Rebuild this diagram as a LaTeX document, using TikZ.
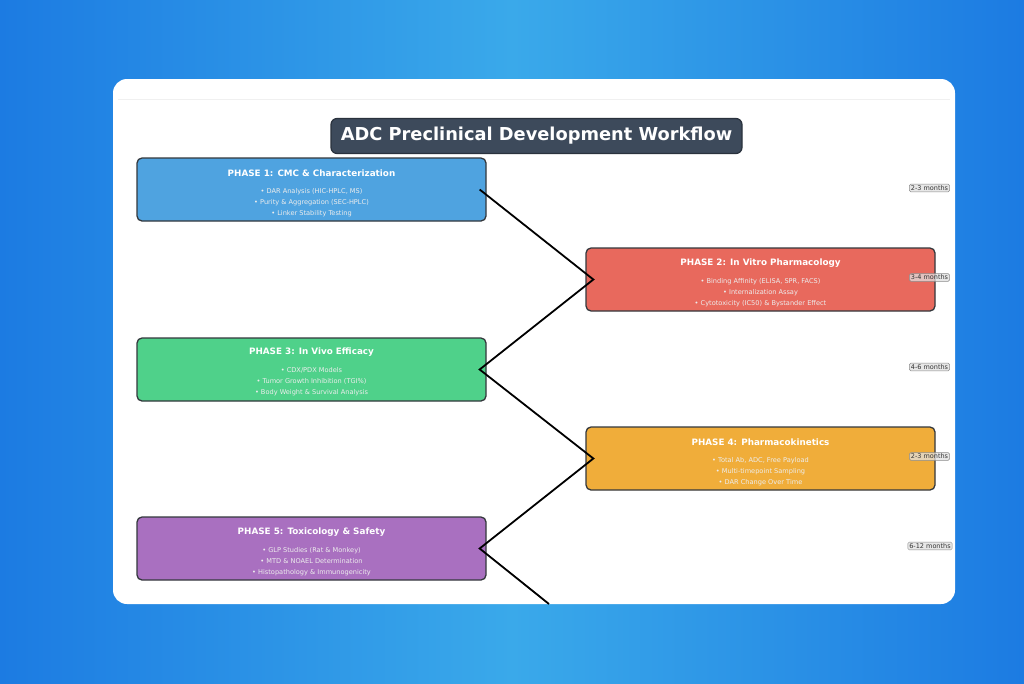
\documentclass[tikz,border=0pt]{standalone}
\usepackage{fontspec}
\setmainfont{DejaVu Sans}

\definecolor{bgdark}{HTML}{1C7BE2}
\definecolor{bglight}{HTML}{3AA9EA}
\definecolor{titlefill}{HTML}{3D4A5B}
\definecolor{titleedge}{HTML}{2A323D}
\definecolor{cmcblue}{HTML}{4FA3E0}
\definecolor{vitrored}{HTML}{E8695D}
\definecolor{vivogreen}{HTML}{4FD18A}
\definecolor{pkorange}{HTML}{F0AD3A}
\definecolor{toxpurple}{HTML}{A970C0}
\definecolor{boxedge}{HTML}{34383D}

\begin{document}
\begin{tikzpicture}[x=1pt,y=-1pt,
  phasebox/.style={draw=boxedge,line width=1.3pt,rounded corners=5pt,minimum width=349pt,minimum height=63pt,inner sep=0pt},
  phasetitle/.style={text=white,inner sep=0pt,font=\fontsize{8.8}{10}\selectfont\bfseries},
  phaselist/.style={text=white!93!black,inner sep=0pt,align=center,font=\fontsize{6.6}{11}\selectfont},
  timetag/.style={draw=black!45,fill=black!12,fill opacity=0.75,text opacity=1,rounded corners=1.5pt,inner xsep=1.5pt,inner ysep=1.4pt,font=\fontsize{6.5}{7.5}\selectfont,text=black!80},
  flow/.style={black,line width=1.8pt}]
\useasboundingbox (0,0) rectangle (1024,683);
\shade[left color=bgdark,right color=bgdark,middle color=bglight] (0,0) rectangle (1024,683);
\fill[white,rounded corners=14pt] (113,79) rectangle (955,604);
\draw[black!6,line width=0.6pt] (118,99) -- (950,99);

% title
\node[fill=titlefill,draw=titleedge,line width=1.2pt,rounded corners=6pt,minimum width=411pt,minimum height=35pt,inner sep=0pt,text=white,font=\fontsize{17.8}{20}\selectfont\bfseries] (ttl) at (536.5,136) {ADC Preclinical Development Workflow};

% phases
\node[phasebox,fill=cmcblue] (p1) at (311.5,189.5) {};
\node[phasetitle] (p1t) at (311.5,173) {PHASE 1: CMC \& Characterization};
\node[phaselist] (p1l) at (311.5,203) {• DAR Analysis (HIC-HPLC, MS)\\• Purity \& Aggregation (SEC-HPLC)\\• Linker Stability Testing};

\node[phasebox,fill=vitrored] (p2) at (760.5,279.5) {};
\node[phasetitle] (p2t) at (760.5,263) {PHASE 2: In Vitro Pharmacology};
\node[phaselist] (p2l) at (760.5,293) {• Binding Affinity (ELISA, SPR, FACS)\\• Internalization Assay\\• Cytotoxicity (IC50) \& Bystander Effect};

\node[phasebox,fill=vivogreen] (p3) at (311.5,369.5) {};
\node[phasetitle] (p3t) at (311.5,352) {PHASE 3: In Vivo Efficacy};
\node[phaselist] (p3l) at (311.5,382) {• CDX/PDX Models\\• Tumor Growth Inhibition (TGI\%)\\• Body Weight \& Survival Analysis};

\node[phasebox,fill=pkorange] (p4) at (760.5,458.5) {};
\node[phasetitle] (p4t) at (760.5,442) {PHASE 4: Pharmacokinetics};
\node[phaselist] (p4l) at (760.5,472) {• Total Ab, ADC, Free Payload\\• Multi-timepoint Sampling\\• DAR Change Over Time};

\node[phasebox,fill=toxpurple] (p5) at (311.5,548.5) {};
\node[phasetitle] (p5t) at (311.5,532) {PHASE 5: Toxicology \& Safety};
\node[phaselist] (p5l) at (311.5,561.5) {• GLP Studies (Rat \& Monkey)\\• MTD \& NOAEL Determination\\• Histopathology \& Immunogenicity};

% links
\coordinate[xshift=-7pt] (p1r) at (p1.east);
\coordinate[xshift=8pt] (p2l) at (p2.west);
\coordinate[xshift=-7pt] (p3r) at (p3.east);
\coordinate[xshift=8pt] (p4l) at (p4.west);
\coordinate[xshift=-7pt] (p5r) at (p5.east);
\coordinate (next) at (549,604);
\draw[flow] (p1r) -- (p2l) -- (p3r) -- (p4l) -- (p5r) -- (next);

% durations
\node[timetag] (d1) at (929.5,188) {2-3 months};
\node[timetag] (d2) at (929.5,277.5) {3-4 months};
\node[timetag] (d3) at (929.5,367) {4-6 months};
\node[timetag] (d4) at (929.5,456.5) {2-3 months};
\node[timetag] (d5) at (930,546) {6-12 months};
\end{tikzpicture}
\end{document}
